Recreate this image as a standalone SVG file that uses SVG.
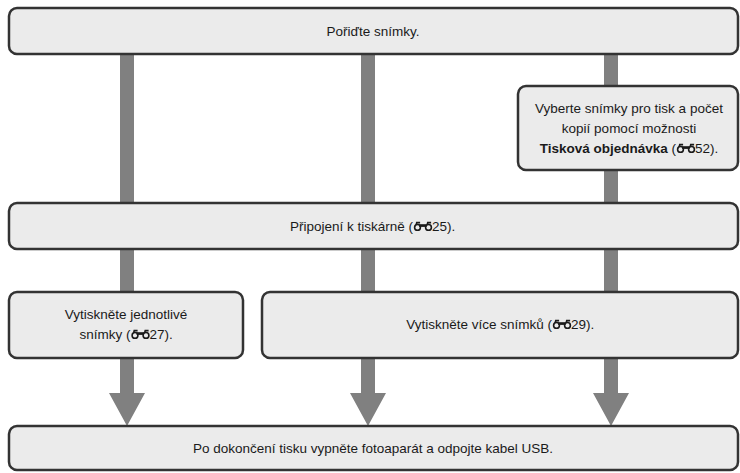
<svg xmlns="http://www.w3.org/2000/svg" width="740" height="473" viewBox="0 0 740 473">
<style>
.box{fill:#ebebeb;stroke:#333;stroke-width:2.5}
.shaft{fill:#808080}
.t{font-family:"Liberation Sans",Arial,sans-serif;font-size:13.5px;fill:#1a1a1a}
.b{font-weight:bold}
</style>
<defs>
<g id="bino">
<circle cx="4" cy="-3.6" r="2.9" fill="none" stroke="#1a1a1a" stroke-width="1.6"/>
<path d="M1.3,-4 L2.6,-9.3 L6.6,-9.3 L6.6,-7.4 L4,-7.4 Z" fill="#1a1a1a"/>
<rect x="5.6" y="-6.8" width="7.4" height="2.7" fill="#1a1a1a"/>
<circle cx="15" cy="-3.6" r="2.9" fill="none" stroke="#1a1a1a" stroke-width="1.6"/>
<path d="M12.3,-4 L13.6,-9.3 L17.6,-9.3 L17.6,-7.4 L15,-7.4 Z" fill="#1a1a1a"/>
</g>
</defs>
<g id="connectors">
<rect class="shaft" x="120" y="54" width="14" height="150"/>
<rect class="shaft" x="361" y="54" width="14" height="150"/>
<rect class="shaft" x="604" y="54" width="14" height="33"/>
<rect class="shaft" x="604" y="169" width="14" height="35"/>
<rect class="shaft" x="120" y="249" width="14" height="43"/>
<rect class="shaft" x="361" y="249" width="14" height="43"/>
<rect class="shaft" x="604" y="249" width="14" height="43"/>
<path class="shaft" d="M120,357 H134 V393 H145 L127,426 L109,393 H120 Z"/>
<path class="shaft" d="M361,357 H375 V393 H386 L368,426 L350,393 H361 Z"/>
<path class="shaft" d="M604,357 H618 V393 H629 L611,426 L593,393 H604 Z"/>
</g>
<g id="n1">
<rect class="box" x="9" y="8" width="729" height="46" rx="8"/>
<text class="t" x="373" y="36" text-anchor="middle">Pořiďte snímky.</text>
</g>
<g id="n2">
<rect class="box" x="518" y="86" width="220" height="84" rx="8"/>
<text class="t" x="629" y="113" text-anchor="middle">Vyberte snímky pro tisk a počet</text>
<text class="t" x="629" y="133" text-anchor="middle">kopií pomocí možnosti</text>
<text class="t" x="676" y="153" text-anchor="end"><tspan class="b">Tisková objednávka</tspan> (</text>
<use href="#bino" x="676.5" y="153"/>
<text class="t" x="695" y="153">52).</text>
</g>
<g id="n3">
<rect class="box" x="9" y="203" width="729" height="46" rx="8"/>
<text class="t" x="413" y="231" text-anchor="end">Připojení k tiskárně (</text>
<use href="#bino" x="413.5" y="231"/>
<text class="t" x="432" y="231">25).</text>
</g>
<g id="n4">
<rect class="box" x="9" y="292" width="234" height="66" rx="8"/>
<text class="t" x="126" y="319" text-anchor="middle">Vytiskněte jednotlivé</text>
<text class="t" x="130.5" y="339" text-anchor="end">snímky (</text>
<use href="#bino" x="131" y="339"/>
<text class="t" x="149.5" y="339">27).</text>
</g>
<g id="n5">
<rect class="box" x="262" y="292" width="476" height="66" rx="8"/>
<text class="t" x="552" y="329" text-anchor="end">Vytiskněte více snímků (</text>
<use href="#bino" x="552.5" y="329"/>
<text class="t" x="571" y="329">29).</text>
</g>
<g id="n6">
<rect class="box" x="9" y="426" width="729" height="44" rx="8"/>
<text class="t" x="373" y="453" text-anchor="middle">Po dokončení tisku vypněte fotoaparát a odpojte kabel USB.</text>
</g>
</svg>
